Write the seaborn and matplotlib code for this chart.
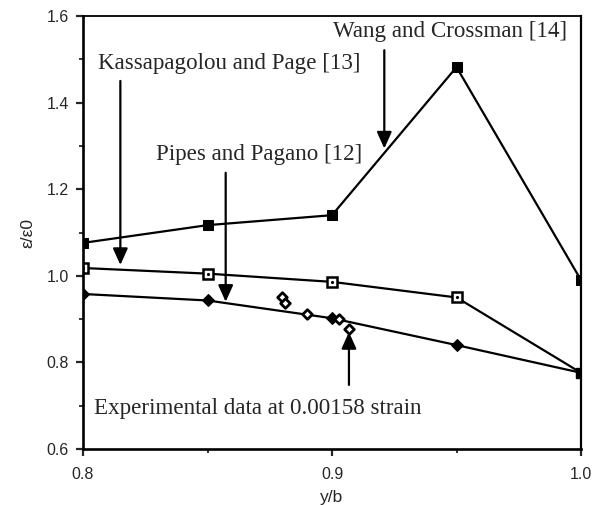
import matplotlib
matplotlib.use("Agg")
import matplotlib.pyplot as plt
import seaborn as sns
import pandas as pd

# Normalised strain along the free edge, y/b
y_b = [0.80, 0.85, 0.90, 0.95, 1.00]
wang_crossman = [1.076, 1.117, 1.140, 1.482, 0.990]
kassapagolou_page = [1.018, 1.005, 0.986, 0.950, 0.776]
pipes_pagano = [0.958, 0.943, 0.902, 0.840, 0.776]

# Measured points at 0.00158 strain
exp_y_b = [0.880, 0.881, 0.890, 0.903, 0.907]
exp_ratio = [0.950, 0.937, 0.911, 0.901, 0.876]

x_ticks = [0.8, 0.9, 1.0]
y_ticks = [0.6, 0.8, 1.0, 1.2, 1.4, 1.6]

sns.set_style("ticks")
plt.rcParams["font.family"] = ["Liberation Sans", "DejaVu Sans"]

fig = plt.figure(figsize=(5.95, 5.05), dpi=100)
ax = fig.add_axes([0.1395, 0.1109, 0.837, 0.8574])

df = pd.DataFrame({"y_b": y_b, "wang": wang_crossman,
                   "kass": kassapagolou_page, "pipes": pipes_pagano})
exp_df = pd.DataFrame({"y_b": exp_y_b, "ratio": exp_ratio})

line_kw = dict(color="black", linewidth=1.6, legend=False, ax=ax)
sns.lineplot(data=df, x="y_b", y="wang", marker="s", markersize=7.5,
             markerfacecolor="black", markeredgecolor="black", **line_kw)
sns.lineplot(data=df, x="y_b", y="kass", marker="s", markersize=7.5,
             markevery=[0, 1, 2, 3], markerfacecolor="white",
             markeredgecolor="black", markeredgewidth=1.8, **line_kw)
sns.lineplot(data=df, x="y_b", y="pipes", marker="D", markersize=6,
             markevery=[0, 1, 2, 3], markerfacecolor="black",
             markeredgecolor="black", **line_kw)

# shared end point of the two lower curves
ax.plot([y_b[-1]], [pipes_pagano[-1]], marker="s", markersize=7.5,
        color="black", linestyle="none", zorder=4)
# centre dots of the open squares
ax.plot(y_b[:4], kassapagolou_page[:4], marker=".", markersize=2.5,
        color="black", linestyle="none", zorder=5)

sns.scatterplot(data=exp_df, x="y_b", y="ratio", marker="D", s=24,
                facecolor="white", edgecolor="black", linewidth=2.0,
                ax=ax, zorder=5)

ax.set_xlim(0.8, 1.0)
ax.set_ylim(0.6, 1.6)
ax.set_xticks(x_ticks)
ax.set_xticklabels([f"{v:.1f}" for v in x_ticks])
ax.set_yticks(y_ticks)
ax.set_yticklabels([f"{v:.1f}" for v in y_ticks])
ax.set_xticks([0.85, 0.95], minor=True)
ax.set_yticks([0.7, 0.9, 1.1, 1.3, 1.5], minor=True)
ax.tick_params(which="major", direction="out", length=5, width=1.6,
               labelsize=11.5)
ax.tick_params(axis="x", which="major", pad=8)
ax.tick_params(axis="y", which="major", pad=5)
ax.tick_params(which="minor", direction="out", length=3, width=1.3)

for side in ["left", "bottom", "right", "top"]:
    ax.spines[side].set_visible(True)
    ax.spines[side].set_color("black")
ax.spines["left"].set_linewidth(1.9)
ax.spines["bottom"].set_linewidth(1.9)
ax.spines["right"].set_linewidth(1.6)
ax.spines["top"].set_linewidth(1.3)

ax.set_xlabel("y/b", fontsize=12.5, labelpad=6)
ax.set_ylabel("ε/ε0", fontsize=12.5, labelpad=8)

serif = ["Liberation Serif", "DejaVu Serif"]
arrow = dict(arrowstyle="-|>,head_length=1.0,head_width=0.45",
             color="black", lw=1.6, shrinkA=0, shrinkB=0)


def pointer(x, y_from, y_to):
    ax.annotate("", xy=(x, y_to), xytext=(x, y_from), arrowprops=arrow)


ax.text(0.806, 1.465, "Kassapagolou and Page [13]", family=serif,
        fontsize=16.6, ha="left", va="bottom")
pointer(0.815, 1.45, 1.025)

ax.text(0.8295, 1.255, "Pipes and Pagano [12]", family=serif,
        fontsize=16.6, ha="left", va="bottom")
pointer(0.8573, 1.238, 0.940)

ax.text(0.9945, 1.54, "Wang and Crossman [14]", family=serif,
        fontsize=16.6, ha="right", va="bottom")
pointer(0.921, 1.521, 1.294)

ax.text(0.8045, 0.693, "Experimental data at 0.00158 strain", family=serif,
        fontsize=16.6, ha="left", va="center")
pointer(0.9068, 0.748, 0.870)

fig.savefig("out.png", dpi=100)
